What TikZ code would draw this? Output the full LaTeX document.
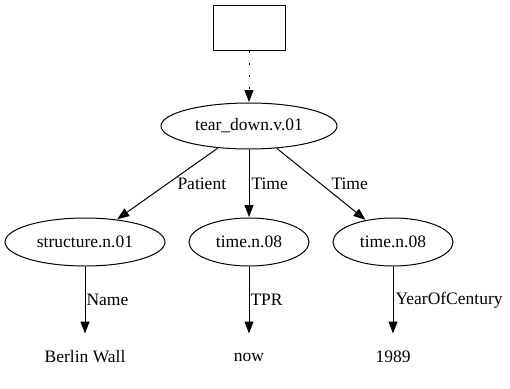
\documentclass[tikz,border=0pt]{standalone}
\usepackage{fontspec}
\setmainfont{Liberation Serif}
\usetikzlibrary{shapes.geometric}
\usetikzlibrary{arrows.meta}
\usetikzlibrary{positioning}

\begin{document}
\begin{tikzpicture}[x=1pt, y=-1pt, line width=1pt,
	font=\fontsize{17.5}{20}\selectfont,
	frame/.style={draw, rectangle, minimum width=72pt, minimum height=45pt},
	sense/.style={draw, ellipse, inner sep=0pt, minimum height=48pt},
	leaf/.style={inner sep=0pt, minimum height=45pt},
	rel/.style={anchor=west, inner sep=0pt},
	arc/.style={-{Triangle[length=12pt, width=9pt]}, shorten >=0.5pt}]
	\useasboundingbox (0,0) rectangle (510,388);
	% top frame and the verb sense
	\node [frame] (box) at (249,27.5) {};
	\node [sense, minimum width=176pt, minimum height=46pt] (tear) at (249,126) {tear\_down.v.01};
	\draw [arc, dash pattern=on 2pt off 10pt] (box) -- (tear);
	% role fillers
	\node [sense, minimum width=160pt] (struct) at (85,242) {structure.n.01};
	\node [sense, minimum width=120pt] (time1) at (249,242) {time.n.08};
	\node [sense, minimum width=120pt] (time2) at (393,242) {time.n.08};
	\draw [arc] (tear) -- (struct);
	\draw [arc] (tear) -- (time1);
	\draw [arc] (tear) -- (time2);
	\node [rel] (patient) at (177,184) {Patient};
	\node [rel] (timea) at (251,184) {Time};
	\node [rel] (timeb) at (331,184) {Time};
	% constants
	\node [leaf] (berlin) at (85,357) {Berlin Wall};
	\node [leaf] (now) at (249,357) {now};
	\node [leaf] (year) at (393,357) {1989};
	\draw [arc] (struct) -- (berlin);
	\draw [arc] (time1) -- (now);
	\draw [arc] (time2) -- (year);
	\node [rel] (name) at (86,300) {Name};
	\node [rel] (tpr) at (250,300) {TPR};
	\node [rel] (yoc) at (395,300) {YearOfCentury};
\end{tikzpicture}
\end{document}
